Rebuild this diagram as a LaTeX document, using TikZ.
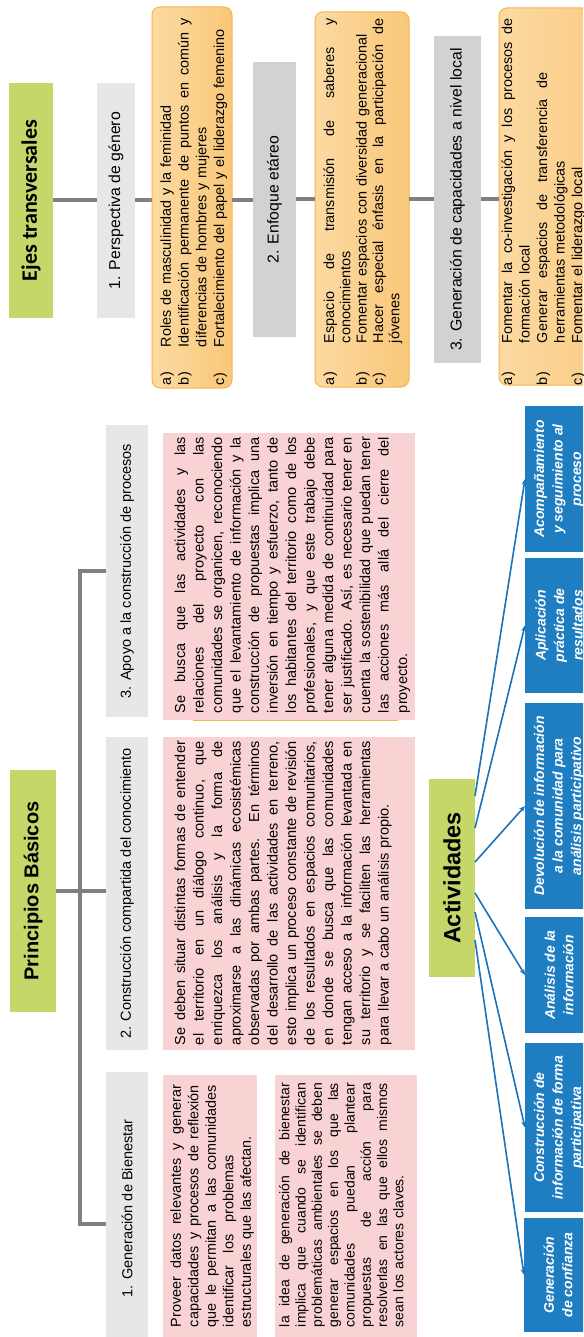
\documentclass[tikz,border=0pt]{standalone}
\usepackage{fontspec}
\setmainfont{Liberation Sans}
\newfontfamily\calibri{Carlito}
\usepackage{graphicx}
\usepackage{xcolor}
\usetikzlibrary{arrows.meta}
\setlength{\parindent}{0pt}

\definecolor{verde}{RGB}{196,215,104}
\definecolor{gris1}{RGB}{230,231,232}
\definecolor{gris2}{RGB}{209,210,212}
\definecolor{linea}{RGB}{128,128,130}
\definecolor{rosa}{RGB}{249,210,212}
\definecolor{nar1}{RGB}{252,218,163}
\definecolor{nar2}{RGB}{249,199,120}
\definecolor{narb}{RGB}{246,182,72}
\definecolor{azul}{RGB}{31,126,193}
\definecolor{azulf}{RGB}{27,114,186}

\newcommand{\jl}[2]{{\spaceskip=0pt\xspaceskip=0pt\makebox[#1][s]{#2}}}
\newcommand{\et}[2][38pt]{\makebox[#1][l]{#2}}

\begin{document}
\begin{tikzpicture}[x=1pt, y=-1pt,
	every node/.style = {inner sep=0pt, outer sep=0pt},
	eje/.style = {fill=verde, font=\bfseries\fontsize{20}{24}\selectfont},
	gris/.style = {fill=gris1, font=\fontsize{14.5}{17}\selectfont},
	grisb/.style = {fill=gris2, font=\fontsize{15.8}{19}\selectfont},
	cajarosa/.style = {fill=rosa},
	cajanar/.style = {draw=narb, line width=1pt, rounded corners=8pt,
		left color=nar1, right color=nar2},
	actividad/.style = {fill=azul, text=white,
		font=\bfseries\itshape\fontsize{14}{18.5}\selectfont},
	texto/.style = {rotate=90, anchor=north west},
	conector/.style = {draw=linea, line width=4pt},
	flecha/.style = {draw=azulf, line width=1.6pt, -{Stealth[length=6pt, width=5pt]}}
	]
	\useasboundingbox (0,0) rectangle (583,1337);
	\clip (0,0) rectangle (583,1337);

	% ejes transversales
	\node[eje, minimum width=44pt, minimum height=235pt,
		font=\calibri\bfseries\fontsize{22}{26}\selectfont] (ejes) at (31,200.5)
		{\rotatebox{90}{Ejes transversales}};
	\node[gris, minimum width=38pt, minimum height=235pt,
		font=\fontsize{15.8}{19}\selectfont] (per) at (116,200.5)
		{\rotatebox{90}{1. Perspectiva de género}};
	\node[cajanar, minimum width=80pt, minimum height=381pt] (n1) at (192,197.5) {};
	\node[grisb, minimum width=43pt, minimum height=275pt] (enf) at (274.5,199.5)
		{\rotatebox{90}{2. Enfoque etáreo}};
	\node[cajanar, minimum width=94pt, minimum height=375pt] (n2) at (362,199.5) {};
	\node[grisb, minimum width=47pt, minimum height=327pt] (cap) at (457.5,199.5)
		{\rotatebox{90}{3. Generación de capacidades a nivel local}};
	\node[cajanar, minimum width=141pt, minimum height=377pt] (n3) at (569.5,196.5) {};

	\node[texto, text width=367pt, font=\fontsize{14.4}{17.7}\selectfont] (tn1) at (160.5,385) {%
		\et{a)}Roles de masculinidad y la feminidad\\
		\et{b)}\jl{329pt}{Identificación permanente de puntos en común y}\\
		\hspace*{38pt}diferencias de hombres y mujeres\\
		\et{c)}Fortalecimiento del papel y el liderazgo femenino};
	\node[texto, text width=367pt, font=\fontsize{14.4}{16.3}\selectfont] (tn2) at (323.5,385) {%
		\et[42pt]{a)}\jl{325pt}{Espacio de transmisión de saberes y}\\
		\hspace*{42pt}conocimientos\\
		\et[42pt]{b)}Fomentar espacios con diversidad generacional\\
		\et[42pt]{c)}\jl{325pt}{Hacer especial énfasis en la participación de}\\
		\hspace*{42pt}jóvenes};
	\node[texto, text width=367pt, font=\fontsize{14.4}{17.5}\selectfont] (tn3) at (501.5,385) {%
		\et[42pt]{a)}\jl{325pt}{Fomentar la co-investigación y los procesos de}\\
		\hspace*{42pt}formación local\\
		\et[42pt]{b)}\jl{271pt}{Generar espacios de transferencia de}\\
		\hspace*{42pt}herramientas metodológicas\\
		\et[42pt]{c)}Fomentar el liderazgo local};

	\draw[conector] (ejes.east) -- (ejes.east -| per.west);
	\draw[conector] (per.east) -- (per.east -| n1.west);
	\draw[conector] (n1.east |- per.east) -- (per.east -| enf.west);
	\draw[conector] (enf.east) -- (enf.east -| n2.west);
	\draw[conector] (n2.east |- enf.east) -- (enf.east -| cap.west);
	\draw[conector] (cap.east) -- (cap.east -| n3.west);

	% principios basicos
	\node[eje, minimum width=46pt, minimum height=242pt] (pb) at (33,891)
		{\rotatebox{90}{Principios Básicos}};
	\node[gris, minimum width=42pt, minimum height=292pt] (bp3) at (127,571)
		{\rotatebox{90}{3. Apoyo a la construcción de procesos}};
	\node[gris, minimum width=42pt, minimum height=313pt] (bp2) at (127,893.5)
		{\rotatebox{90}{2. Construcción compartida del conocimiento}};
	\node[gris, minimum width=42pt, minimum height=273pt] (bp1) at (127,1208.5)
		{\rotatebox{90}{1. Generación de Bienestar}};
	\node[cajarosa, minimum width=252pt, minimum height=287pt] (pk3) at (289,576.5) {};
	\node[cajarosa, minimum width=252pt, minimum height=313pt] (pk2) at (289,893.5) {};
	\node[cajarosa, minimum width=94pt, minimum height=285pt] (pk1a) at (210,1217.5) {};
	\node[cajarosa, minimum width=142pt, minimum height=285pt] (pk1b) at (346,1217.5) {};
	\draw[draw=narb, line width=1pt] ([xshift=30pt]pk3.south west) -- ([xshift=-17pt]pk3.south east);

	\node[texto, text width=276pt, font=\fontsize{14.5}{18.5}\selectfont] (tp3) at (174.5,713) {%
		\jl{276pt}{Se busca que las actividades y las}\\
		\jl{276pt}{relaciones del proyecto con las}\\
		\jl{276pt}{comunidades se organicen, reconociendo}\\
		\jl{276pt}{que el levantamiento de información y la}\\
		\jl{276pt}{construcción de propuestas implica una}\\
		\jl{276pt}{inversión en tiempo y esfuerzo, tanto de}\\
		\jl{276pt}{los habitantes del territorio como de los}\\
		\jl{276pt}{profesionales, y que este trabajo debe}\\
		\jl{276pt}{tener alguna medida de continuidad para}\\
		\jl{276pt}{ser justificado. Así, es necesario tener en}\\
		\jl{276pt}{cuenta la sostenibilidad que puedan tener}\\
		\jl{276pt}{las acciones más allá del cierre del}\\
		proyecto.};
	\node[texto, text width=304pt, font=\fontsize{14.5}{18.5}\selectfont] (tp2) at (174.5,1045) {%
		\jl{304pt}{Se deben situar distintas formas de entender}\\
		\jl{304pt}{el territorio en un diálogo continuo, que}\\
		\jl{304pt}{enriquezca los análisis y la forma de}\\
		\jl{304pt}{aproximarse a las dinámicas ecosistémicas}\\
		\jl{304pt}{observadas por ambas partes. En términos}\\
		\jl{304pt}{del desarrollo de las actividades en terreno,}\\
		\jl{304pt}{esto implica un proceso constante de revisión}\\
		\jl{304pt}{de los resultados en espacios comunitarios,}\\
		\jl{304pt}{en donde se busca que las comunidades}\\
		\jl{304pt}{tengan acceso a la información levantada en}\\
		\jl{304pt}{su territorio y se faciliten las herramientas}\\
		para llevar a cabo un análisis propio.};
	\node[texto, text width=242pt, font=\fontsize{14.4}{17.5}\selectfont] (tp1a) at (170.5,1327) {%
		\jl{242pt}{Proveer datos relevantes y generar}\\
		\jl{242pt}{capacidades y procesos de reflexión}\\
		\jl{242pt}{que le permitan a las comunidades}\\
		\jl{172pt}{identificar los problemas}\\
		estructurales que las afectan.};
	\node[texto, text width=244pt, font=\fontsize{14}{16.3}\selectfont] (tp1b) at (279,1327) {%
		\jl{244pt}{la idea de generación de bienestar}\\
		\jl{244pt}{implica que cuando se identifican}\\
		\jl{244pt}{problemáticas ambientales se deben}\\
		\jl{244pt}{generar espacios en los que las}\\
		\jl{244pt}{comunidades puedan plantear}\\
		\jl{244pt}{propuestas de acción para}\\
		\jl{244pt}{resolverlas en las que ellos mismos}\\
		sean los actores claves.};

	\draw[conector] (pb.east) -- (pb.east -| bp2.west);
	\draw[conector] (bp3.west) -- ++(-26,0) |- ([yshift=-15pt]bp1.west);

	% actividades
	\node[eje, minimum width=46pt, minimum height=198pt,
		font=\bfseries\fontsize{23.5}{28}\selectfont] (act) at (452,878)
		{\rotatebox{90}{Actividades}};
	\node[actividad, minimum width=68pt, minimum height=146pt] (acomp) at (559,479)
		{\rotatebox{90}{\parbox{146pt}{\centering Acompañamiento\\y seguimiento al\\proceso}}};
	\node[actividad, minimum width=68pt, minimum height=135pt] (aplic) at (559,625.5)
		{\rotatebox{90}{\parbox{135pt}{\centering Aplicación\\práctica de\\resultados}}};
	\node[actividad, minimum width=68pt, minimum height=206pt] (devol) at (559,806)
		{\rotatebox{90}{\parbox{206pt}{\centering Devolución de información\\a la comunidad para\\análisis participativo}}};
	\node[actividad, minimum width=68pt, minimum height=116pt] (anal) at (559,975)
		{\rotatebox{90}{\parbox{116pt}{\centering Análisis de la\\información}}};
	\node[actividad, minimum width=68pt, minimum height=169pt] (constr) at (559,1127.5)
		{\rotatebox{90}{\parbox{169pt}{\centering Construcción de\\información de forma\\participativa}}};
	\node[actividad, minimum width=68pt, minimum height=114pt] (confi) at (558,1275)
		{\rotatebox{90}{\parbox{114pt}{\centering Generación\\de confianza}}};

	\draw[flecha] ([yshift=82pt]act.east) -- (acomp.west);
	\draw[flecha] ([yshift=50pt]act.east) -- (aplic.west);
	\draw[flecha] ([yshift=16pt]act.east) -- (devol.west);
	\draw[flecha] ([yshift=-15pt]act.east) -- (anal.west);
	\draw[flecha] ([yshift=-34pt]act.east) -- (constr.west);
	\draw[flecha] ([yshift=-62pt]act.east) -- (confi.west);
\end{tikzpicture}
\end{document}
